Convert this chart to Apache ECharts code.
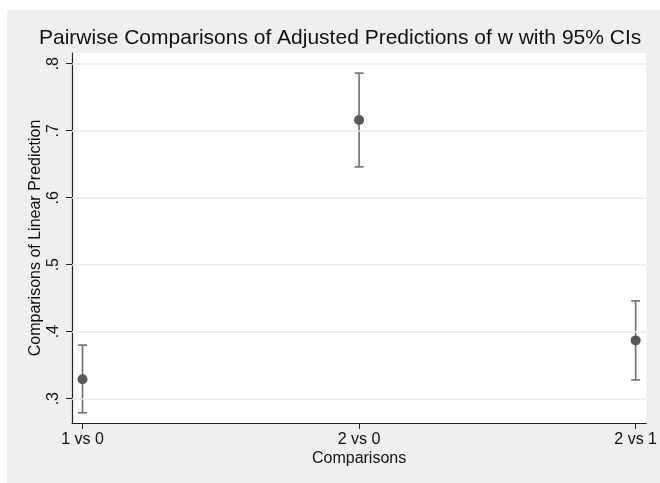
<!DOCTYPE html>
<html><head><meta charset="utf-8">
<script src="https://cdn.jsdelivr.net/npm/echarts@6/dist/echarts.min.js"></script>
<style>html,body{margin:0;padding:0;background:#fff}#c{width:660px;height:483px}</style>
</head><body><div id="c"></div>
<script>
var categories = ['1 vs 0', '2 vs 0', '2 vs 1'];
var estimates = [0.329, 0.716, 0.387];
var lowerCI = [0.279, 0.646, 0.328];
var upperCI = [0.380, 0.786, 0.446];
var yTicks = [0.3, 0.4, 0.5, 0.6, 0.7, 0.8];
var yTickLabels = ['.3', '.4', '.5', '.6', '.7', '.8'];
var xTicks = [0, 1, 2];

var FONT = 'Liberation Sans, Arial, Helvetica, sans-serif';
var chart = echarts.init(document.getElementById('c'), null, {renderer: 'canvas'});

var pts = estimates.map(function (v, i) { return [xTicks[i], v]; });
var bars = estimates.map(function (v, i) { return [xTicks[i], lowerCI[i], upperCI[i]]; });

chart.setOption({
  animation: false,
  backgroundColor: '#ffffff',
  graphic: [{
    type: 'rect', z: -10, silent: true,
    shape: {x: 7, y: 10, width: 653, height: 473},
    style: {fill: '#efefef'}
  }],
  title: {
    text: 'Pairwise Comparisons of Adjusted Predictions of w with 95% CIs',
    left: 34, top: 23,
    textStyle: {fontFamily: FONT, fontSize: 21, fontWeight: 'normal', color: '#111'}
  },
  grid: {
    left: 72, top: 53, right: 12, bottom: 60,
    show: true, backgroundColor: '#ffffff', borderWidth: 0
  },
  xAxis: {
    type: 'value', min: -0.038, max: 2.038,
    name: 'Comparisons', nameLocation: 'middle', nameGap: 28,
    nameMoveOverlap: false,
    nameTextStyle: {fontFamily: FONT, fontSize: 16, color: '#111'},
    axisLine: {show: true, onZero: false, lineStyle: {color: '#222', width: 1.2}},
    axisTick: {show: true, length: 6, customValues: xTicks, lineStyle: {color: '#222', width: 1}},
    axisLabel: {
      customValues: xTicks, margin: 9,
      fontFamily: FONT, fontSize: 16, color: '#111',
      formatter: function (v) { return categories[Math.round(v)]; }
    },
    splitLine: {show: false}
  },
  yAxis: {
    type: 'value', min: 0.2637, max: 0.816,
    name: 'Comparisons of Linear Prediction', nameLocation: 'middle', nameGap: 28,
    nameMoveOverlap: false,
    nameTextStyle: {fontFamily: FONT, fontSize: 16, color: '#111'},
    axisLine: {show: true, onZero: false, lineStyle: {color: '#222', width: 1.2}},
    axisTick: {show: true, length: 6, customValues: yTicks, lineStyle: {color: '#222', width: 1}},
    axisLabel: {
      customValues: yTicks, margin: 10, rotate: 90,
      fontFamily: FONT, fontSize: 16, color: '#111',
      formatter: function (v) {
        for (var i = 0; i < yTicks.length; i++) if (Math.abs(yTicks[i] - v) < 1e-6) return yTickLabels[i];
        return '';
      }
    },
    splitLine: {show: false}
  },
  series: [
    {
      type: 'line', data: [], silent: true,
      markLine: {
        silent: true, symbol: 'none', label: {show: false},
        lineStyle: {color: '#eaeaea', width: 1.5, type: 'solid'},
        data: yTicks.map(function (t) { return {yAxis: t}; })
      }
    },
    {
      type: 'custom', z: 3,
      data: bars,
      renderItem: function (params, api) {
        var x = api.value(0);
        var lo = api.coord([x, api.value(1)]);
        var hi = api.coord([x, api.value(2)]);
        var hw = 4.5;
        var st = {stroke: '#6e6e6e', lineWidth: 1.6};
        return {
          type: 'group',
          children: [
            {type: 'line', shape: {x1: lo[0], y1: lo[1], x2: hi[0], y2: hi[1]}, style: st},
            {type: 'line', shape: {x1: lo[0] - hw, y1: lo[1], x2: lo[0] + hw, y2: lo[1]}, style: st},
            {type: 'line', shape: {x1: hi[0] - hw, y1: hi[1], x2: hi[0] + hw, y2: hi[1]}, style: st}
          ]
        };
      }
    },
    {
      type: 'scatter', z: 4, data: pts, symbol: 'circle', symbolSize: 10,
      itemStyle: {color: '#595959', opacity: 1}
    }
  ]
});
</script></body></html>
